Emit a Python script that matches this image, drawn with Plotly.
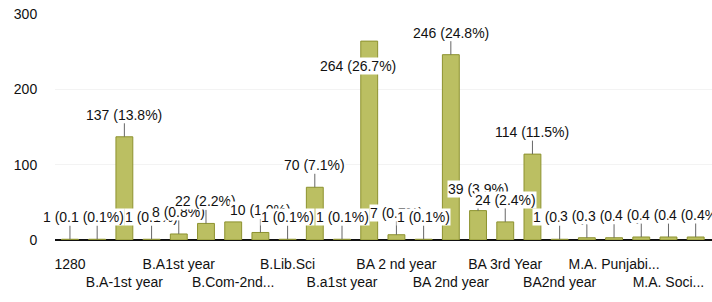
import plotly.graph_objects as go

categories = [
    "1280", "", "B.A-1st year", "", "B.A1st year", "", "B.Com-2nd...", "",
    "B.Lib.Sci", "", "B.a1st year", "", "BA 2 nd year", "", "BA 2nd year", "",
    "BA 3rd Year", "", "BA2nd year", "", "M.A. Punjabi...", "", "M.A. Soci...", "",
]
values = [1, 1, 137, 1, 8, 22, 24, 10, 1, 70, 1, 264, 7, 1, 246, 39, 24, 114, 1, 3, 3, 4, 4, 4]
percents = ["0.1", "0.1", "13.8", "0.1", "0.8", "2.2", "2.4", "1.0", "0.1", "7.1", "0.1", "26.7",
            "0.7", "0.1", "24.8", "3.9", "2.4", "11.5", "0.1", "0.3", "0.3", "0.4", "0.4", "0.4"]
hidden_labels = [6]
y_ticks = [0, 100, 200, 300]

x = list(range(len(values)))

# stagger tick labels into two rows
ticktext = []
row = 0
for i, c in enumerate(categories):
    if c == "":
        ticktext.append("")
    else:
        ticktext.append(c if row == 0 else "<br>" + c)
        row = 1 - row

FONT = "Liberation Sans, Arial, sans-serif"

fig = go.Figure()
fig.add_trace(go.Bar(
    x=x, y=values, width=0.62,
    marker=dict(color="#bbbf62", line=dict(color="#8d922f", width=1)),
))

annotations = []
for i, (v, p) in enumerate(zip(values, percents)):
    if i in hidden_labels:
        continue
    ax, ay, acol = 0, -22, "#666666"
    if v == max(values):
        ax, ay, acol = -11, 25, "rgba(0,0,0,0)"
    annotations.append(dict(
        x=i, y=v, xref="x", yref="y", text=f"{v} ({p}%)",
        showarrow=True, arrowhead=0, arrowwidth=1, arrowcolor=acol,
        ax=ax, ay=ay, bgcolor="white", borderpad=0,
        font=dict(family=FONT, size=14, color="#111111"),
    ))

fig.update_layout(
    width=712, height=302,
    margin=dict(l=55, r=0, t=14, b=62),
    paper_bgcolor="white", plot_bgcolor="white",
    showlegend=False,
    annotations=annotations,
    font=dict(family=FONT, size=14, color="#111111"),
    xaxis=dict(
        tickmode="array", tickvals=x, ticktext=ticktext,
        range=[-0.55, 23.6], showgrid=False, showline=False, zeroline=False,
        ticks="outside", ticklen=11, tickcolor="rgba(0,0,0,0)",
        tickangle=0, tickfont=dict(size=14), automargin=False,
    ),
    yaxis=dict(
        tickmode="array", tickvals=y_ticks, range=[0, 300],
        showgrid=True, gridcolor="#f3f3f3", zeroline=True, zerolinecolor="#111111",
        zerolinewidth=2, showline=False, ticks="outside", ticklen=14,
        tickcolor="rgba(0,0,0,0)", tickfont=dict(size=14), automargin=False,
    ),
)

fig.write_html("out.html", config={"displayModeBar": False},
               post_script="document.body.style.margin='0';")
